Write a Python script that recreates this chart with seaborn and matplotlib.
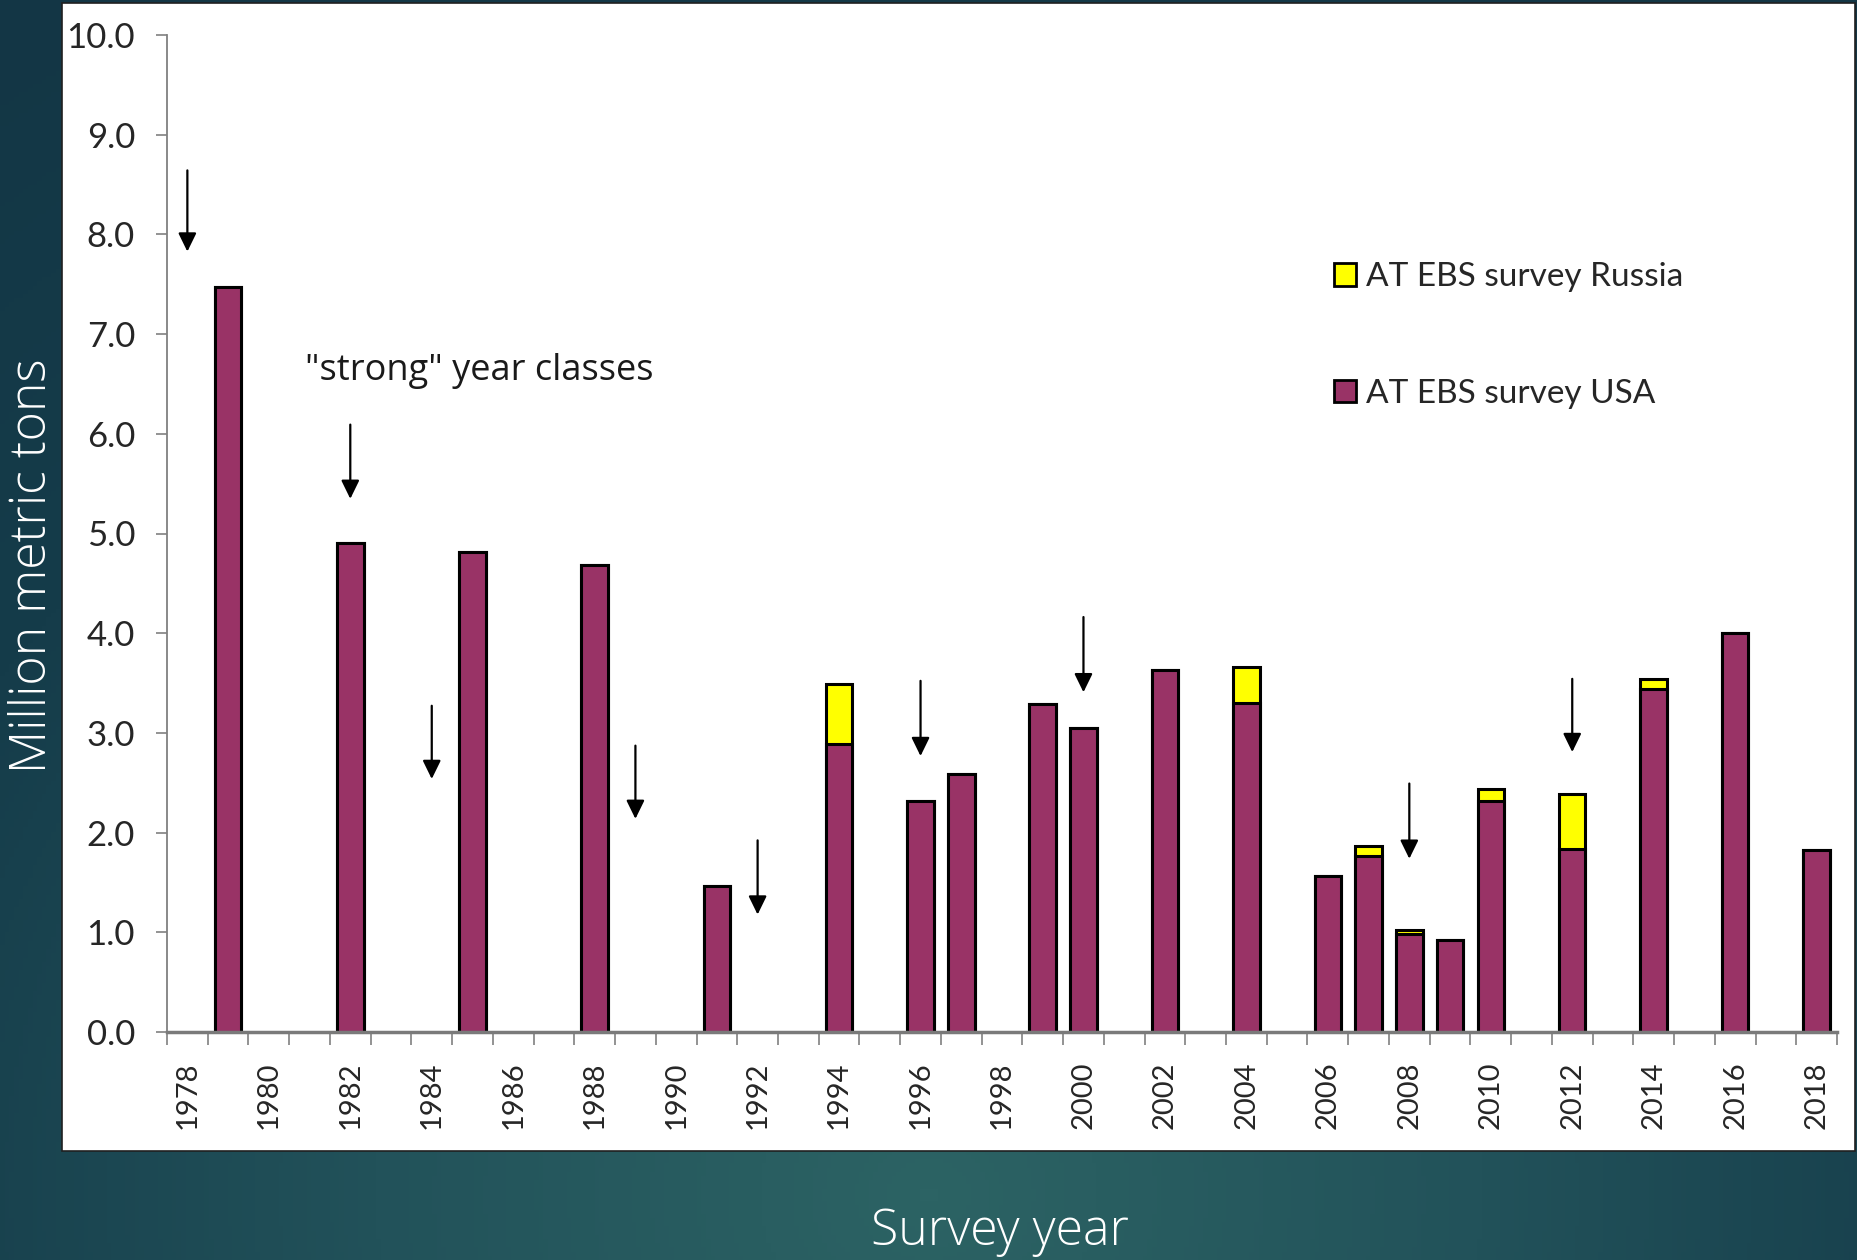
import numpy as np
import pandas as pd
import matplotlib
matplotlib.use("Agg")
import matplotlib.pyplot as plt
import seaborn as sns
from matplotlib.colors import LinearSegmentedColormap
from matplotlib.patches import Patch, Rectangle

# Survey biomass (million t)
all_years = list(range(1978, 2019))
survey_years = [1979, 1982, 1985, 1988, 1991, 1994, 1996, 1997, 1999, 2000, 2002,
                2004, 2006, 2007, 2008, 2009, 2010, 2012, 2014, 2016, 2018]
usa = [7.47, 4.90, 4.81, 4.68, 1.46, 2.89, 2.32, 2.59, 3.29, 3.05, 3.63,
       3.30, 1.56, 1.77, 0.98, 0.92, 2.32, 1.84, 3.44, 4.00, 1.83]
russia = [0, 0, 0, 0, 0, 0.60, 0, 0, 0, 0, 0,
          0.36, 0, 0.10, 0.04, 0, 0.12, 0.55, 0.10, 0, 0]

# "strong" year class arrows
strong_years = [1978, 1982, 1984, 1989, 1992, 1996, 2000, 2008, 2012]
arrow_top = [8.67, 6.12, 3.30, 2.90, 1.95, 3.55, 4.19, 2.52, 3.57]
arrow_tip = [7.80, 5.32, 2.51, 2.11, 1.15, 2.74, 3.38, 1.71, 2.78]

df = pd.DataFrame({"year": survey_years, "usa": usa, "russia": russia})
df["total"] = df["usa"] + df["russia"]

sns.set_style("ticks")
plt.rcParams["font.family"] = ["Lato", "DejaVu Sans"]

fig = plt.figure(figsize=(18.58, 12.60), dpi=100)

# slide background + white panel
bg = fig.add_axes([0, 0, 1, 1], zorder=-10)
gx, gy = np.meshgrid(np.linspace(0, 1, 400), np.linspace(0, 1, 300))
r = np.sqrt(((gx - 0.5) * 1.3) ** 2 + ((gy - 0.05) * 1.0) ** 2)
cmap = LinearSegmentedColormap.from_list("slide", ["#2c6364", "#22525a", "#153c4a", "#133645"])
bg.imshow(r, cmap=cmap, extent=[0, 1, 0, 1], origin="lower", aspect="auto")
bg.add_patch(Rectangle((62 / 1858, 1 - 1151 / 1260), (1855 - 62) / 1858, (1148) / 1260,
                       facecolor="white", edgecolor="#202020", lw=1.2))
bg.set_xlim(0, 1)
bg.set_ylim(0, 1)
bg.axis("off")

ax = fig.add_axes([167 / 1858, 1 - 1032 / 1260, (1837 - 167) / 1858, (1032 - 35) / 1260])
ax.set_facecolor("none")

sns.barplot(data=df, x="year", y="total", order=all_years, color="#FFFF00", saturation=1,
            edgecolor="black", linewidth=2.2, width=0.65, ax=ax)
sns.barplot(data=df, x="year", y="usa", order=all_years, color="#993366", saturation=1,
            edgecolor="black", linewidth=2.2, width=0.65, ax=ax)

for yr, y0, y1 in zip(strong_years, arrow_top, arrow_tip):
    xi = all_years.index(yr)
    ax.annotate("", xy=(xi, y1), xytext=(xi, y0),
                arrowprops=dict(arrowstyle="-|>,head_length=0.45,head_width=0.22",
                                color="black", lw=1.6, mutation_scale=25))

ax.text(2.9, 6.63, '"strong" year classes', fontsize=26, family=["Open Sans", "DejaVu Sans"],
        color="#1a1a1a", va="center", ha="left")

ax.set_xlim(-0.5, len(all_years) - 0.5)
ax.set_ylim(0, 10)
ax.set_yticks(np.arange(0, 11, 1))
ax.set_yticklabels([f"{v:.1f}" for v in np.arange(0, 11, 1)], fontsize=25)
ax.set_xticks(range(0, len(all_years), 2))
ax.set_xticklabels([str(y) for y in all_years[::2]], rotation=90, fontsize=21)
ax.set_xticks(np.arange(-0.5, len(all_years), 1), minor=True)
ax.tick_params(axis="x", which="major", length=0, pad=21)
ax.tick_params(axis="x", which="minor", length=9, width=1.2, color="#808080")
ax.tick_params(axis="y", length=8, width=1.2, color="#808080", pad=15)
ax.set_xlabel("")
ax.set_ylabel("")
sns.despine(ax=ax)
ax.spines["left"].set_color("#808080")
ax.spines["left"].set_linewidth(1.3)
ax.spines["bottom"].set_color("#7a7a7a")
ax.spines["bottom"].set_linewidth(2.5)

handles = [Patch(facecolor="#FFFF00", edgecolor="black", lw=2, label="AT EBS survey Russia"),
           Patch(facecolor="#993366", edgecolor="black", lw=2, label="AT EBS survey USA")]
ax.legend(handles=handles, loc="upper left", bbox_to_anchor=(0.699, 0.772), frameon=False,
          fontsize=24, handlelength=0.65, handleheight=0.65, handletextpad=0.3,
          labelspacing=2.6, borderpad=0, borderaxespad=0)

fig.text(0.018, 0.551, "Million metric tons", rotation=90, color="white", fontsize=36,
         family=["Open Sans", "DejaVu Sans"], weight="light", ha="center", va="center")
fig.text(0.538, 0.022, "Survey year", color="white", fontsize=36,
         family=["Open Sans", "DejaVu Sans"], weight="light", ha="center", va="center")

fig.savefig("out.png", dpi=100)
